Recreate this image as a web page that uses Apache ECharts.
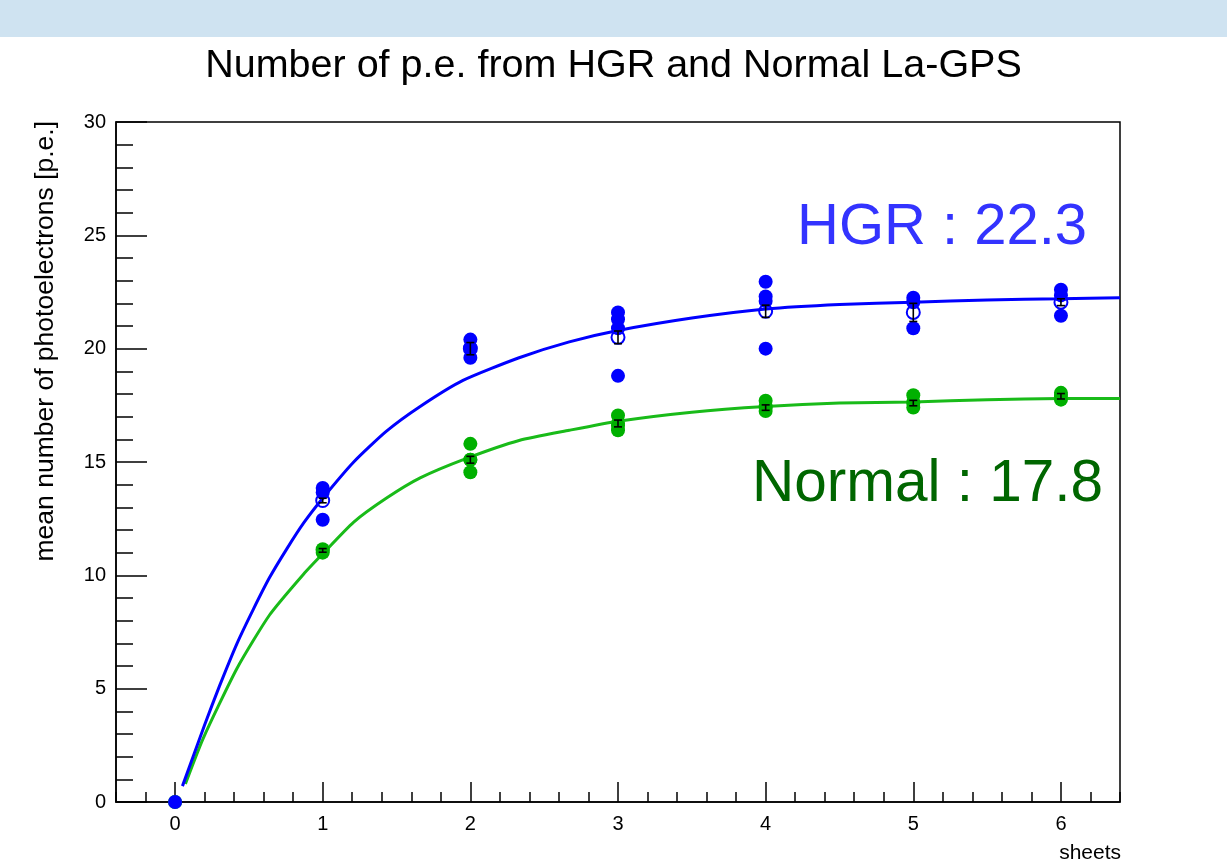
<!DOCTYPE html>
<html>
<head>
<meta charset="utf-8">
<title>Number of p.e. from HGR and Normal La-GPS</title>
<script src="https://cdn.jsdelivr.net/npm/echarts@6/dist/echarts.min.js"></script>
<style>
  html, body { margin: 0; padding: 0; background: #ffffff; }
  #chart { width: 1227px; height: 864px; }
</style>
</head>
<body>
<div id="chart"></div>
<script>
// Number of sheets stacked in front of the photodetector
const sheets = [0, 1, 2, 3, 4, 5, 6];
const meanSheets = [1, 2, 3, 4, 5, 6];

// Individual measurements [sheets, p.e.]
const hgrPoints = [
  [0, 0],
  [1, 13.85], [1, 13.65], [1, 12.45],
  [2, 20.4], [2, 20.05], [2, 19.6],
  [3, 21.6], [3, 21.3], [3, 20.9], [3, 18.8],
  [4, 22.95], [4, 22.3], [4, 22.1], [4, 20.0],
  [5, 22.25], [5, 22.05], [5, 20.9],
  [6, 22.6], [6, 22.35], [6, 21.45]
];
const normalPoints = [
  [0, 0],
  [1, 11.15], [1, 11.0],
  [2, 15.8], [2, 15.1], [2, 14.55],
  [3, 17.05], [3, 16.6], [3, 16.4],
  [4, 17.7], [4, 17.45], [4, 17.25],
  [5, 17.95], [5, 17.65], [5, 17.4],
  [6, 18.05], [6, 17.75]
];

// Mean per sheet count (1..6) and its uncertainty
const hgrMean = [13.3, 20.0, 20.5, 21.65, 21.6, 22.05];
const hgrErr = [0.1, 0.27, 0.28, 0.27, 0.4, 0.15];
const normalMean = [11.1, 15.1, 16.7, 17.4, 17.6, 17.9];
const normalErr = [0.08, 0.15, 0.15, 0.12, 0.12, 0.12];

// Saturation fit curves [sheets, p.e.]
const hgrFit = [
  [0.05, 0.7], [0.2, 3.4], [0.3, 5.1], [0.42, 7.0], [0.53, 8.5], [0.64, 9.9],
  [0.76, 11.2], [0.87, 12.3], [1.0, 13.4], [1.21, 15.0], [1.43, 16.35],
  [1.66, 17.45], [1.95, 18.6], [2.33, 19.6], [2.67, 20.3], [3.0, 20.8],
  [3.5, 21.35], [4.0, 21.75], [4.5, 21.95], [5.0, 22.05], [5.5, 22.15],
  [6.0, 22.2], [6.4, 22.25]
];
const normalFit = [
  [0.07, 0.8], [0.19, 2.8], [0.42, 5.9], [0.64, 8.25], [0.87, 10.05], [1.0, 10.95],
  [1.21, 12.35], [1.43, 13.4], [1.66, 14.3], [1.97, 15.15], [2.33, 15.95],
  [2.67, 16.4], [3.0, 16.8], [3.5, 17.2], [4.0, 17.45], [4.5, 17.6],
  [5.0, 17.65], [5.5, 17.75], [6.0, 17.8], [6.4, 17.8]
];

const yTicks = [0, 5, 10, 15, 20, 25, 30];
const plateauLabels = ['HGR : 22.3', 'Normal : 17.8'];

const FONT = '"Liberation Sans", Arial, Helvetica, sans-serif';
const BLUE = '#0000ff';
const GREEN = '#00b000';

function meanData(mean, err) {
  return meanSheets.map((s, i) => [s, mean[i], err[i]]);
}

function errorBar(params, api) {
  const x = api.value(0);
  const y = api.value(1);
  const e = api.value(2);
  const top = api.coord([x, y + e]);
  const bot = api.coord([x, y - e]);
  const cap = 4;
  const style = { stroke: '#000', lineWidth: 1.6 };
  return {
    type: 'group',
    children: [
      { type: 'line', shape: { x1: top[0], y1: top[1], x2: bot[0], y2: bot[1] }, style },
      { type: 'line', shape: { x1: top[0] - cap, y1: top[1], x2: top[0] + cap, y2: top[1] }, style },
      { type: 'line', shape: { x1: bot[0] - cap, y1: bot[1], x2: bot[0] + cap, y2: bot[1] }, style }
    ]
  };
}

const chart = echarts.init(document.getElementById('chart'), null, { renderer: 'canvas' });

const option = {
  backgroundColor: '#ffffff',
  animation: false,
  textStyle: { fontFamily: FONT },
  title: {
    text: 'Number of p.e. from HGR and Normal La-GPS',
    left: 'center',
    top: 41,
    textStyle: { fontFamily: FONT, fontSize: 39.5, fontWeight: 'normal', color: '#000' }
  },
  grid: {
    left: 116, top: 122, right: 107, bottom: 62,
    show: true, borderColor: '#000', borderWidth: 1.5, backgroundColor: 'transparent'
  },
  xAxis: [
    {
      type: 'value', min: -0.4, max: 6.4,
      axisLine: { show: true, onZero: false, lineStyle: { color: '#000', width: 1.5 } },
      axisTick: { show: true, inside: true, length: 20, customValues: sheets, lineStyle: { color: '#000', width: 1.5 } },
      axisLabel: { show: true, customValues: sheets, fontSize: 20, color: '#000', margin: 12, fontFamily: FONT },
      splitLine: { show: false }
    },
    {
      type: 'value', min: -0.4, max: 6.4, interval: 0.2, position: 'bottom',
      axisLine: { show: false, onZero: false },
      axisTick: { show: true, inside: true, length: 10, lineStyle: { color: '#000', width: 1.5 } },
      axisLabel: { show: false },
      splitLine: { show: false }
    }
  ],
  yAxis: {
    type: 'value', min: 0, max: 30, interval: 5,
    axisLine: { show: true, onZero: false, lineStyle: { color: '#000', width: 1.5 } },
    axisTick: { show: true, inside: true, length: 31, lineStyle: { color: '#000', width: 1.5 } },
    minorTick: { show: true, splitNumber: 5, length: 17, lineStyle: { color: '#000', width: 1.5 } },
    axisLabel: {
      fontSize: 20, color: '#000', margin: 10, fontFamily: FONT,
      formatter: v => (yTicks.indexOf(v) >= 0 ? String(v) : '')
    },
    splitLine: { show: false }
  },
  graphic: [
    { type: 'rect', left: 0, top: 0, shape: { width: 1227, height: 37 }, style: { fill: '#cfe3f1' }, silent: true },
    {
      type: 'text', x: 46, y: 121, rotation: Math.PI / 2,
      style: { text: 'mean number of photoelectrons [p.e.]', font: '26.5px ' + FONT, fill: '#000', align: 'right', verticalAlign: 'middle' }
    },
    {
      type: 'text', x: 1121, y: 853,
      style: { text: 'sheets', font: '21px ' + FONT, fill: '#000', align: 'right', verticalAlign: 'middle' }
    },
    {
      type: 'text', x: 797, y: 228,
      style: { text: plateauLabels[0], font: '58px ' + FONT, fill: '#3333ff', align: 'left', verticalAlign: 'middle' }
    },
    {
      type: 'text', x: 752, y: 485,
      style: { text: plateauLabels[1], font: '58.5px ' + FONT, fill: '#006600', align: 'left', verticalAlign: 'middle' }
    }
  ],
  series: [
    {
      name: 'Normal mean', type: 'scatter', data: meanData(normalMean, normalErr), symbol: 'emptyCircle', symbolSize: 12,
      itemStyle: { color: GREEN, borderColor: GREEN, borderWidth: 1.5, opacity: 1 }, z: 2
    },
    {
      name: 'Normal fit', type: 'line', data: normalFit, smooth: 0.2, showSymbol: false,
      lineStyle: { color: '#19bb19', width: 3 }, z: 3
    },
    {
      name: 'Normal', type: 'scatter', data: normalPoints, symbol: 'circle', symbolSize: 14,
      itemStyle: { color: GREEN, opacity: 1 }, z: 4
    },
    {
      name: 'HGR mean', type: 'scatter', data: meanData(hgrMean, hgrErr), symbol: 'emptyCircle', symbolSize: 13,
      itemStyle: { color: BLUE, borderColor: BLUE, borderWidth: 1.5, opacity: 1 }, z: 5
    },
    {
      name: 'HGR fit', type: 'line', data: hgrFit, smooth: 0.2, showSymbol: false,
      lineStyle: { color: BLUE, width: 3 }, z: 6
    },
    {
      name: 'HGR', type: 'scatter', data: hgrPoints, symbol: 'circle', symbolSize: 14,
      itemStyle: { color: BLUE, opacity: 1 }, z: 7
    },
    {
      name: 'Normal error', type: 'custom', data: meanData(normalMean, normalErr), renderItem: errorBar, z: 8
    },
    {
      name: 'HGR error', type: 'custom', data: meanData(hgrMean, hgrErr), renderItem: errorBar, z: 9
    }
  ]
};

chart.setOption(option);
</script>
</body>
</html>
